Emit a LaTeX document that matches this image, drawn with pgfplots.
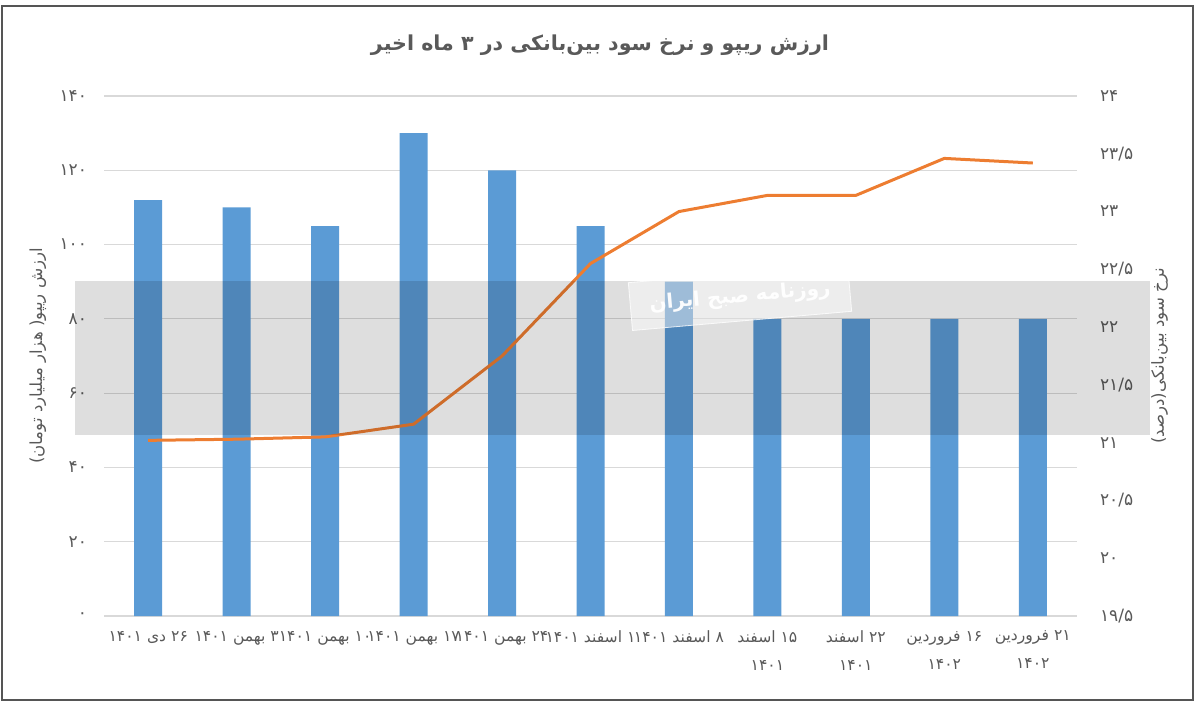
\documentclass[border=0pt]{standalone}
\usepackage{pgfplots}
\pgfplotsset{compat=1.18}
\usepackage{fontspec}
\setmainfont[Script=Arabic]{DejaVu Sans}
\definecolor{barblue}{HTML}{5B9BD5}
\definecolor{lineorange}{HTML}{ED7D31}
\definecolor{gridgray}{HTML}{D9D9D9}
\definecolor{txtgray}{HTML}{595959}
\definecolor{framegray}{HTML}{555555}
\begin{document}
\begin{tikzpicture}
\useasboundingbox (0pt,0pt) rectangle (600pt,351.5pt);
\begin{axis}[
  at={(52pt,43.5pt)}, anchor=south west,
  scale only axis, width=486.5pt, height=260pt,
  xmin=-0.5, xmax=10.5, ymin=0, ymax=140,
  ytick={0,20,...,140},
  yticklabels={۰,۲۰,۴۰,۶۰,۸۰,۱۰۰,۱۲۰,۱۴۰},
  xtick={0,...,10},
  xticklabels={
    ۱۴۰۱ دی ۲۶,
    ۱۴۰۱ بهمن ۳,
    ۱۴۰۱ بهمن ۱۰,
    ۱۴۰۱ بهمن ۱۷,
    ۱۴۰۱ بهمن ۲۴,
    ۱۴۰۱ اسفند ۱,
    ۱۴۰۱ اسفند ۸,
    {اسفند ۱۵\\۱۴۰۱},
    {اسفند ۲۲\\۱۴۰۱},
    {فروردین ۱۶\\۱۴۰۲},
    {فروردین ۲۱\\۱۴۰۲}},
  xticklabel style={align=center, font=\fontsize{7.8}{14}\selectfont, text=txtgray, anchor=north, yshift=-4pt},
  yticklabel style={font=\fontsize{8.5}{10}\selectfont, text=txtgray, anchor=east, xshift=-5pt},
  axis line style={draw=none},
  major tick length=0pt,
  ymajorgrids,
  grid style={color=gridgray, line width=0.6pt},
  ylabel={\mbox{)}تومان میلیارد هزار \mbox{(}ریپو ارزش},
  ylabel style={at={(axis description cs:-0.068,0.5)}, anchor=center, font=\fontsize{8.3}{10}\selectfont, text=txtgray},
  clip=false,
]
\addplot[ybar, bar width=14pt, fill=barblue, draw=none] coordinates {
(0,112) (1,110) (2,105) (3,130) (4,120) (5,105) (6,90) (7,80) (8,80) (9,80) (10,80)};
\end{axis}
\begin{axis}[
  at={(52pt,43.5pt)}, anchor=south west,
  scale only axis, width=486.5pt, height=260pt,
  xmin=-0.5, xmax=10.5, ymin=19.5, ymax=24,
  axis x line=none, axis y line*=right,
  axis line style={draw=none},
  major tick length=0pt,
  ytick={19.5,20,20.5,21,21.5,22,22.5,23,23.5,24},
  yticklabels={۱۹/۵,۲۰,۲۰/۵,۲۱,۲۱/۵,۲۲,۲۲/۵,۲۳,۲۳/۵,۲۴},
  yticklabel style={font=\fontsize{8.5}{10}\selectfont, text=txtgray, anchor=west, xshift=8pt},
  ylabel={\mbox{)}درصد\mbox{(}بین‌بانکی سود نرخ},
  ylabel style={at={(axis description cs:1.085,0.5)}, anchor=center, font=\fontsize{8.3}{10}\selectfont, text=txtgray},
  clip=false,
]
\addplot[color=lineorange, line width=1.5pt, mark=none] coordinates {
(0,21.02) (1,21.03) (2,21.05) (3,21.16) (4,21.75) (5,22.55) (6,23.0) (7,23.14) (8,23.14) (9,23.46) (10,23.42)};
\end{axis}
% watermark band
\fill[black, opacity=0.13] (37.5pt,134pt) rectangle (575pt,211pt);
\node[rotate=5, fill=white, fill opacity=0.45, draw=white, draw opacity=0.8, text=white, text opacity=0.95, font=\fontsize{10}{12}\selectfont\bfseries, minimum width=110pt, minimum height=24pt] at (370pt,203pt) {ایران صبح روزنامه};
% title
\node[font=\fontsize{10.3}{12}\selectfont\bfseries, text=txtgray] at (300pt,329pt) {اخیر ماه ۳ در بین‌بانکی سود نرخ و ریپو ارزش};
% frame
\draw[framegray, line width=1pt] (1pt,1.5pt) rectangle (596.5pt,348.5pt);
\end{tikzpicture}
\end{document}
